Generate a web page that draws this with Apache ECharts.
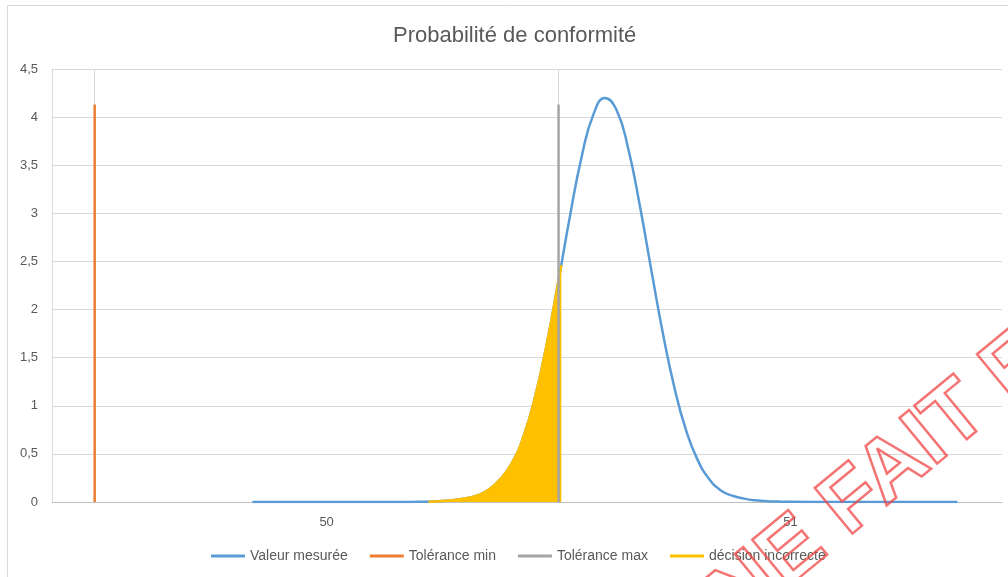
<!DOCTYPE html>
<html>
<head>
<meta charset="utf-8">
<script src="https://cdn.jsdelivr.net/npm/echarts@6/dist/echarts.min.js"></script>
<style>
  html, body { margin: 0; padding: 0; background: #fff; }
  #chart { width: 1008px; height: 577px; }
</style>
</head>
<body>
<div id="chart"></div>
<script>
// valeurs
var xMesure = [49.84, 49.95, 50.05, 50.15, 50.2, 50.225, 50.25, 50.275, 50.3, 50.325, 50.35, 50.375, 50.4, 50.425, 50.45, 50.475, 50.5,
    50.525, 50.55, 50.575, 50.6, 50.625, 50.65, 50.675, 50.7, 50.725, 50.75, 50.775, 50.8, 50.825, 50.85, 50.875, 50.9,
    50.925, 50.95, 50.975, 51.0, 51.1, 51.2, 51.3, 51.36];
var yMesure = [0, 0, 0, 0, 0.002, 0.004, 0.01, 0.02, 0.038, 0.068, 0.13, 0.24, 0.41, 0.6865, 1.1046, 1.653, 2.3016,
    2.981, 3.592, 4.026, 4.199, 4.074, 3.676, 3.087, 2.41, 1.751, 1.184, 0.744, 0.4355, 0.237, 0.12, 0.065, 0.035,
    0.017, 0.008, 0.004, 0.002, 0, 0, 0, 0];

var xDecision = [50.22, 50.25, 50.275, 50.3, 50.325, 50.35, 50.375, 50.4, 50.425, 50.45, 50.475, 50.5, 50.506];
var yDecision = [0.003, 0.01, 0.02, 0.038, 0.068, 0.13, 0.24, 0.41, 0.6865, 1.1046, 1.653, 2.3016, 2.46];

var tolMin = 49.5;
var tolMax = 50.5;
var tolHaut = 4.13;

var xLabels = [50, 51];
var legendNames = ['Valeur mesurée', 'Tolérance min', 'Tolérance max', 'décision incorrecte'];

function pairs(xs, ys) {
    return xs.map(function (x, i) { return [x, ys[i]]; });
}

var chart = echarts.init(document.getElementById('chart'));
var font = '"Liberation Sans", Arial, sans-serif';

var option = {
    animation: false,
    textStyle: { fontFamily: font },
    title: {
        text: 'Probabilité de conformité',
        left: 388,
        top: 20,
        textStyle: { fontSize: 22, fontWeight: 'normal', color: '#595959', fontFamily: font }
    },
    legend: {
        data: legendNames,
        bottom: 9,
        left: 206,
        icon: 'rect',
        itemWidth: 34,
        itemHeight: 3,
        itemGap: 22,
        textStyle: { fontSize: 14, color: '#595959', fontFamily: font }
    },
    grid: { left: 52, right: 6, top: 69, bottom: 75 },
    xAxis: {
        type: 'value',
        min: 49.408,
        max: 51.456,
        axisLine: { show: true, lineStyle: { color: '#bfbfbf', width: 1 } },
        axisTick: { show: false },
        splitLine: { show: false },
        axisLabel: {
            customValues: xLabels,
            color: '#595959',
            fontSize: 13,
            margin: 14,
            fontFamily: font
        }
    },
    yAxis: {
        type: 'value',
        min: 0,
        max: 4.5,
        interval: 0.5,
        axisLine: { show: true, lineStyle: { color: '#d9d9d9' } },
        axisTick: { show: false },
        splitLine: { lineStyle: { color: '#d9d9d9', width: 1 } },
        axisLabel: {
            color: '#595959',
            fontSize: 13,
            margin: 14,
            fontFamily: font,
            formatter: function (v) { return String(v).replace('.', ','); }
        }
    },
    graphic: [
        {
            type: 'rect',
            shape: { x: 7.5, y: 5.5, width: 1010, height: 590 },
            style: { fill: 'none', stroke: '#d9d9d9', lineWidth: 1 },
            silent: true,
            z: -10
        },
        {
            type: 'text',
            x: 914,
            y: 452,
            rotation: 0.69,
            silent: true,
            z: 100,
            style: {
                text: 'NE FAIT FOI',
                fill: 'none',
                stroke: 'rgba(240, 70, 70, 0.75)',
                lineWidth: 2.5,
                font: 'bold 86px "Liberation Sans", Arial, sans-serif',
                textAlign: 'center',
                textVerticalAlign: 'middle'
            }
        }
    ],
    series: [
        {
            name: 'Valeur mesurée',
            type: 'line',
            data: pairs(xMesure, yMesure),
            smooth: true,
            showSymbol: false,
            color: '#5B9BD5',
            lineStyle: { width: 2.5, color: '#5B9BD5' },
            z: 2,
            markLine: {
                silent: true,
                z: 1,
                symbol: 'none',
                label: { show: false },
                lineStyle: { color: '#d9d9d9', width: 1, type: 'solid' },
                data: [{ xAxis: tolMin }, { xAxis: tolMax }]
            }
        },
        {
            name: 'Tolérance min',
            type: 'line',
            data: [[tolMin, 0], [tolMin, tolHaut]],
            showSymbol: false,
            color: '#ED7D31',
            lineStyle: { width: 2.5, color: '#ED7D31' },
            z: 6
        },
        {
            name: 'Tolérance max',
            type: 'line',
            data: [[tolMax, 0], [tolMax, tolHaut]],
            showSymbol: false,
            color: '#A5A5A5',
            lineStyle: { width: 2.5, color: '#A5A5A5' },
            z: 6
        },
        {
            name: 'décision incorrecte',
            type: 'line',
            data: pairs(xDecision, yDecision),
            smooth: true,
            showSymbol: false,
            color: '#FFC000',
            lineStyle: { width: 2.5, color: '#FFC000' },
            areaStyle: { color: '#FFC000', opacity: 1 },
            z: 3
        }
    ]
};

chart.setOption(option);
</script>
</body>
</html>
